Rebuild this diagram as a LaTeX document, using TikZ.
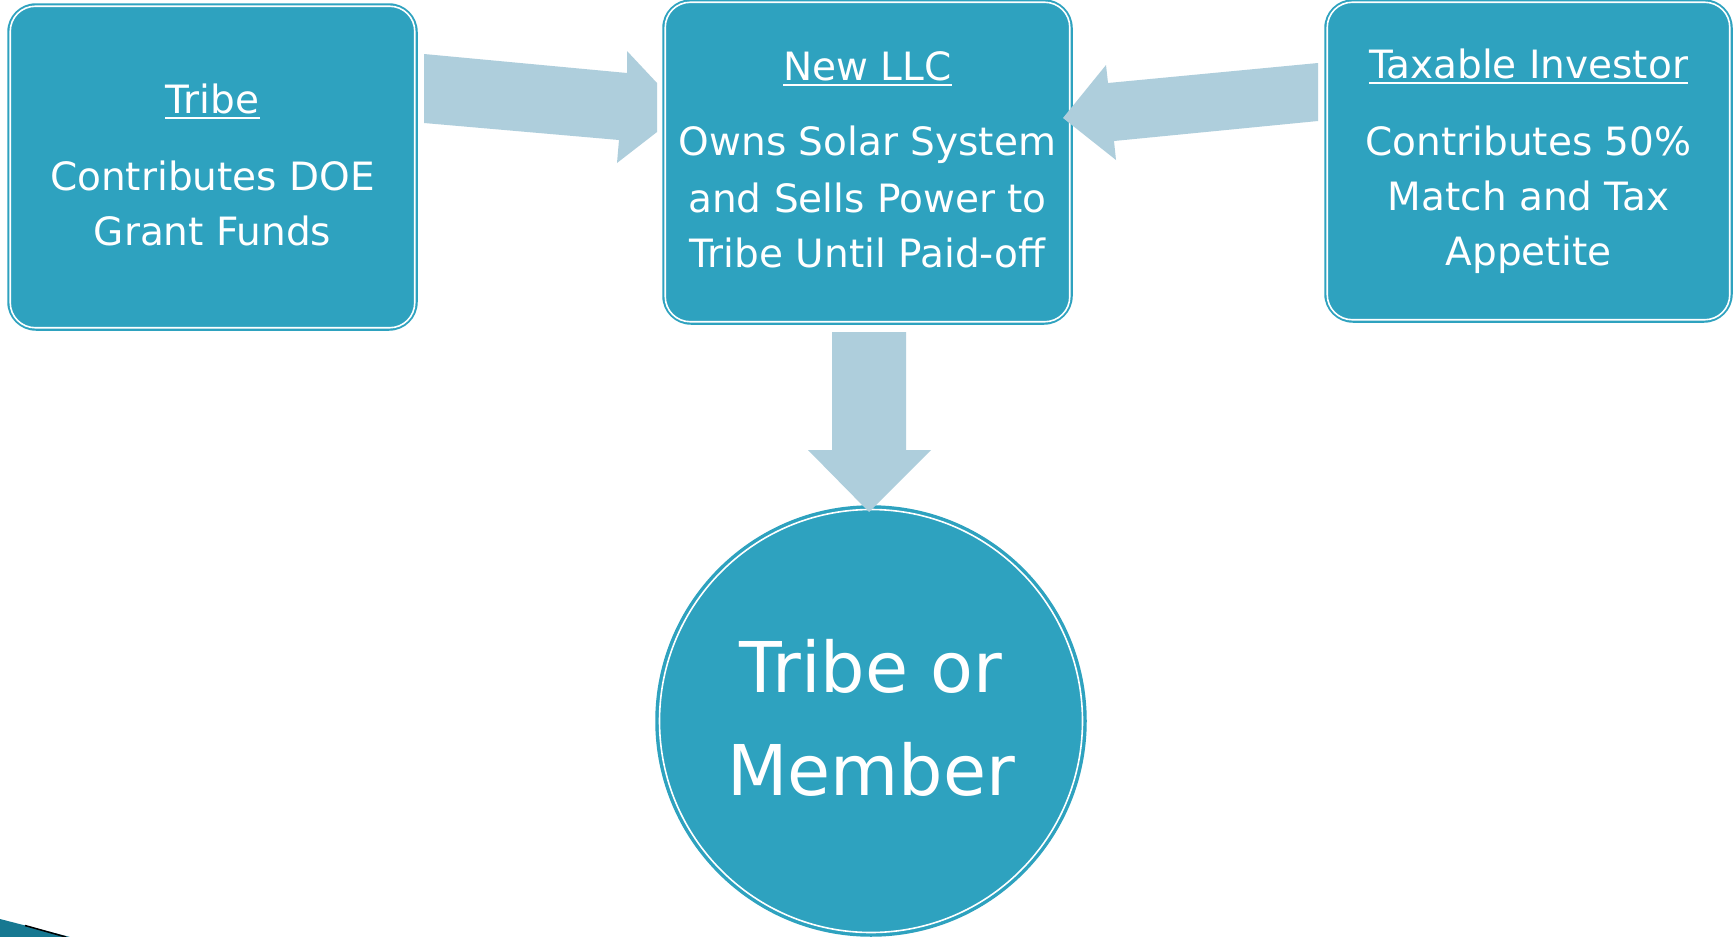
\documentclass[tikz,border=0pt]{standalone}
\usepackage{fontspec}
\setmainfont{DejaVu Sans}
\definecolor{tealbox}{RGB}{46,162,191}
\definecolor{arrowblue}{RGB}{174,206,220}
\definecolor{darkteal}{RGB}{22,120,145}
\tikzset{
  boxshape/.style={draw=tealbox, fill=tealbox, line width=1.5pt, rounded corners=28pt, inner sep=0pt},
  circshape/.style={circle, draw=tealbox, fill=tealbox, line width=1.5pt, inner sep=0pt},
  innerline/.style={draw=white, line width=1.6pt},
  txt/.style={text=white, inner sep=0pt, anchor=base, font=\fontsize{39pt}{47pt}\selectfont},
  bigtxt/.style={text=white, inner sep=0pt, anchor=base, font=\fontsize{70pt}{84pt}\selectfont},
  uline/.style={draw=white, line width=2pt},
  blockarrow/.style={fill=arrowblue, draw=none},
}
\begin{document}
\begin{tikzpicture}[x=1pt,y=-1pt]
\useasboundingbox (0,0) rectangle (1735,937);
\fill[white] (0,0) rectangle (1735,937);

% boxes
\node[boxshape, minimum width=409pt, minimum height=326pt] (tribe) at (212.5,167) {};
\draw[innerline, rounded corners=25pt] ([shift={(3,3)}]tribe.north west) rectangle ([shift={(-3,-3)}]tribe.south east);
\node[boxshape, minimum width=409pt, minimum height=324pt] (llc) at (867.5,162) {};
\draw[innerline, rounded corners=25pt] ([shift={(3,3)}]llc.north west) rectangle ([shift={(-3,-3)}]llc.south east);
\node[boxshape, minimum width=407pt, minimum height=322pt] (inv) at (1528.5,161) {};
\draw[innerline, rounded corners=25pt] ([shift={(3,3)}]inv.north west) rectangle ([shift={(-3,-3)}]inv.south east);
\node[circshape, minimum size=430pt] (member) at (871,721) {};
\draw[innerline] (member.center) circle (211.5pt);

% texts: Tribe
\node[txt] (tribeH) at (212.5,113) {Tribe};
\draw[uline] ([yshift=-5pt]tribeH.base west) -- ([yshift=-5pt]tribeH.base east);
\node[txt] (tribe1) at (212.5,190) {Contributes DOE};
\node[txt] (tribe2) at (212.5,245) {Grant Funds};

% texts: New LLC
\node[txt] (llcH) at (867.5,80) {New LLC};
\draw[uline] ([yshift=-5pt]llcH.base west) -- ([yshift=-5pt]llcH.base east);
\node[txt] (llc1) at (867.5,155) {Owns Solar System};
\node[txt] (llc2) at (867.5,212) {and Sells Power to};
\node[txt] (llc3) at (867.5,267) {Tribe Until Paid-off};

% texts: Taxable Investor
\node[txt] (invH) at (1528.5,78) {Taxable Investor};
\draw[uline] ([yshift=-5pt]invH.base west) -- ([yshift=-5pt]invH.base east);
\node[txt] (inv1) at (1528.5,155) {Contributes 50\%};
\node[txt] (inv2) at (1528.5,210) {Match and Tax};
\node[txt] (inv3) at (1528.5,265) {Appetite};

% circle text
\node[bigtxt] (mem1) at (871,692) {Tribe or};
\node[bigtxt] (mem2) at (871,795) {Member};

% block arrows
\fill[blockarrow] (424,54) -- (627,73) -- (627,51) -- (657,83) -- (657,132)
  -- (617,163) -- (619,140) -- (424,123) -- cycle;
\fill[blockarrow] (1318,63) -- (1108,83) -- (1106,65) -- (1063,118)
  -- (1116,160) -- (1114,141) -- (1318,121) -- cycle;
\fill[blockarrow] (832,332) -- (906,332) -- (906,450) -- (931,450)
  -- (869,512) -- (808,450) -- (832,450) -- cycle;

% corner decoration
\fill[darkteal] (0,919) -- (70,937) -- (0,937) -- cycle;
\draw[black, line width=1.5pt] (25,925.5) -- (66,937);
\end{tikzpicture}
\end{document}
